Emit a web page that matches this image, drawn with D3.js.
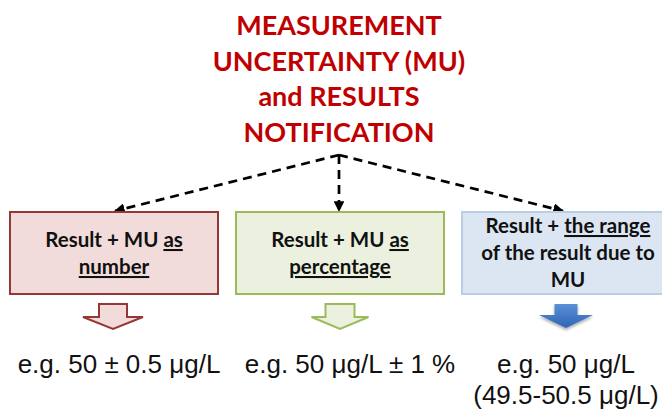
<!DOCTYPE html>
<html><head><meta charset="utf-8">
<script src="https://cdn.jsdelivr.net/npm/d3@7"></script>
<style>html,body{margin:0;padding:0;background:#fff;}svg{display:block;}</style>
</head><body>
<svg id="c" width="662" height="410"></svg>
<script>
const titleLines = ["MEASUREMENT", "UNCERTAINTY (MU)", "and RESULTS", "NOTIFICATION"];
const categories = ["number", "percentage", "range"];
// each box: lines of segments [text, underlined]
const boxLines = [
  [[["Result + MU ", false], ["as", true]], [["number", true]]],
  [[["Result + MU ", false], ["as", true]], [["percentage", true]]],
  [[["Result + ", false], ["the range", true]], [["of the result due to", false]], [["MU", false]]]
];
const examples = [
  ["e.g. 50 ± 0.5 μg/L"],
  ["e.g. 50 μg/L ± 1 %"],
  ["e.g. 50 μg/L", "(49.5-50.5 μg/L)"]
];
const fills = ["#f2dcdb", "#ebf1de", "#dce6f2"];
const strokes = ["#953735", "#9bbb59", "#b9cde5"];

const svg = d3.select("#c");

// title
const title = svg.append("text")
  .attr("text-anchor", "middle")
  .attr("font-family", "Lato, 'Open Sans', sans-serif")
  .attr("font-weight", "bold")
  .attr("font-size", 27)
  .attr("fill", "#c00000");
title.selectAll("tspan").data(titleLines).join("tspan")
  .attr("x", 339).attr("y", (d, i) => 35 + i * 35.7).text(d => d);

const x = d3.scaleBand().domain(categories).range([10, 670]).paddingInner(18 / 226);
const boxTop = 212, boxH = 82;

// dashed connectors
const defs = svg.append("defs");
defs.append("marker").attr("id", "ah").attr("viewBox", "0 0 10 10")
  .attr("refX", 9).attr("refY", 5).attr("markerWidth", 4).attr("markerHeight", 4)
  .attr("markerUnits", "strokeWidth").attr("orient", "auto")
  .append("path").attr("d", "M0,0 L10,5 L0,10 z").attr("fill", "#000");

const apex = [339, 155];
const targets = [
  [x("number") + x.bandwidth() / 2 + 1, boxTop],
  [339, boxTop],
  [x("range") + x.bandwidth() / 2 - 3, boxTop]
];
svg.selectAll("line.conn").data(targets).join("line")
  .attr("class", "conn")
  .attr("x1", apex[0]).attr("y1", apex[1])
  .attr("x2", d => d[0]).attr("y2", d => d[1] - 1)
  .attr("stroke", "#000").attr("stroke-width", 2.7)
  .attr("stroke-dasharray", "9,6")
  .attr("marker-end", "url(#ah)");

// boxes
const g = svg.selectAll("g.box").data(categories).join("g").attr("class", "box");
g.append("rect")
  .attr("x", d => x(d)).attr("y", boxTop)
  .attr("width", x.bandwidth()).attr("height", boxH)
  .attr("fill", (d, i) => fills[i]).attr("stroke", (d, i) => strokes[i]).attr("stroke-width", 2);

g.each(function (d, i) {
  const lines = boxLines[i];
  const cx = x(d) + x.bandwidth() / 2 + (i === 2 ? 2 : 0);
  const y0 = lines.length === 2 ? 247 : 233;
  const t = d3.select(this).append("text")
    .attr("text-anchor", "middle")
    .attr("font-family", "Lato, 'Open Sans', sans-serif")
    .attr("font-weight", "bold").attr("font-size", 20.5).attr("fill", "#111");
  lines.forEach((segs, li) => {
    segs.forEach((s, si) => {
      const ts = t.append("tspan").text(s[0]);
      if (si === 0) ts.attr("x", cx).attr("y", y0 + li * 27);
      if (s[1]) ts.attr("text-decoration", "underline");
    });
  });
});

// block arrows
const grad = defs.append("linearGradient").attr("id", "bg").attr("x1", 0).attr("y1", 0).attr("x2", 0).attr("y2", 1);
grad.append("stop").attr("offset", "0%").attr("stop-color", "#5b8fd6");
grad.append("stop").attr("offset", "100%").attr("stop-color", "#2f64b5");
const shadow = defs.append("filter").attr("id", "sh").attr("x", "-30%").attr("y", "-30%").attr("width", "160%").attr("height", "160%");
shadow.append("feDropShadow").attr("dx", 0).attr("dy", 2).attr("stdDeviation", 1.5).attr("flood-color", "#000").attr("flood-opacity", 0.35);
const arrowDims = [[14, 30, 304, 317, 329], [14.5, 28.5, 304, 317, 329], [11.5, 27, 304, 315, 328]];
categories.forEach((d, i) => {
  const cx = x(d) + x.bandwidth() / 2 + (i === 0 ? -1 : 0);
  const [sw, hw, top, neck, tip] = arrowDims[i];
  const p = d3.path();
  p.moveTo(cx - sw, top); p.lineTo(cx + sw, top); p.lineTo(cx + sw, neck);
  p.lineTo(cx + hw, neck); p.lineTo(cx, tip); p.lineTo(cx - hw, neck);
  p.lineTo(cx - sw, neck); p.closePath();
  const a = svg.append("path").attr("d", p.toString())
    .attr("fill", i === 2 ? "url(#bg)" : fills[i])
    .attr("stroke", i === 2 ? "none" : strokes[i])
    .attr("stroke-width", 2).attr("stroke-linejoin", "miter");
  if (i === 2) a.attr("filter", "url(#sh)");
});

// example texts
const exDx = [5, 10, 0];
categories.forEach((d, i) => {
  const cx = x(d) + x.bandwidth() / 2 + exDx[i];
  const t = svg.append("text").attr("text-anchor", "middle")
    .attr("font-family", "'Liberation Sans', Arial, sans-serif")
    .attr("font-size", 26).attr("fill", "#111");
  t.selectAll("tspan").data(examples[i]).join("tspan")
    .attr("x", cx).attr("y", (e, k) => 373 + k * 31).text(e => e);
});
</script>
</body></html>
